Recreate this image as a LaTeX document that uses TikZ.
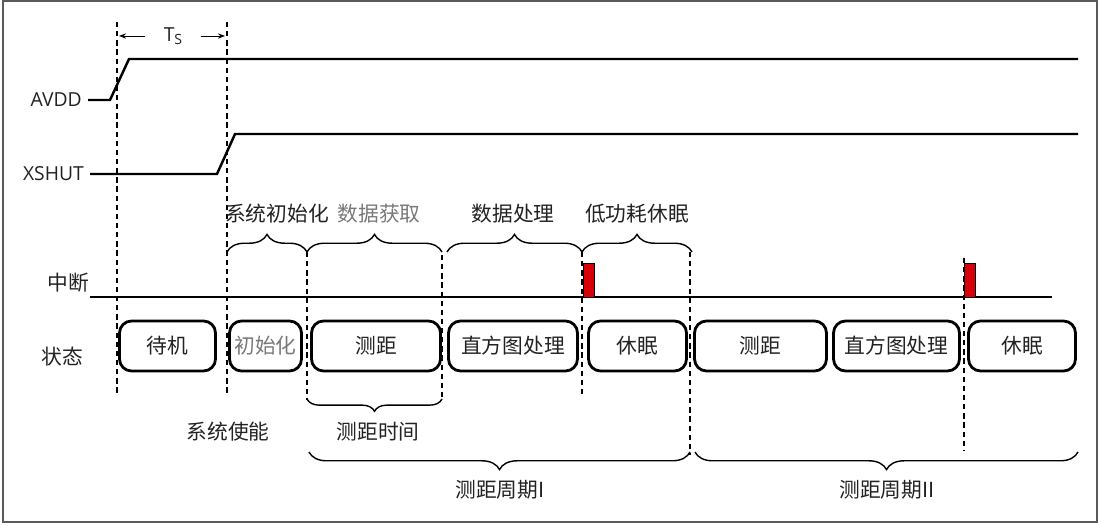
\documentclass[tikz,border=0pt]{standalone}
\usepackage{fontspec}
\setmainfont{Noto Sans CJK SC}
\newfontfamily\latinfont{Open Sans}
\usetikzlibrary{arrows.meta,decorations.pathreplacing}
\definecolor{inkgray}{RGB}{34,34,34}
\definecolor{softgray}{RGB}{120,120,120}
\definecolor{framegray}{RGB}{90,90,90}
\definecolor{pulsered}{RGB}{215,0,10}

\begin{document}
\begin{tikzpicture}[x=0.02cm, y=-0.02cm,
    every node/.style={font=\fontsize{11.8}{14}\selectfont, text=inkgray},
    latin/.style={font=\latinfont\fontsize{11}{13}\selectfont},
    signal/.style={line width=1.4pt},
    guide/.style={dash pattern=on 3pt off 2.2pt, line width=0.8pt},
    state/.style={draw, line width=1.6pt, rounded corners=0.24cm, minimum height=1cm, inner sep=0pt},
    topbrace/.style={decorate, decoration={brace, amplitude=10pt}, line width=0.8pt},
    lowbrace/.style={decorate, decoration={brace, mirror, amplitude=#1}, line width=0.8pt},
    pulse/.style={draw, fill=pulsered, line width=0.4pt},
    tsarrow/.style={-{Stealth[length=4pt,width=3pt]}, line width=0.5pt, shorten <=7pt}]
  \useasboundingbox (0,0) rectangle (1101,526);
  \draw[framegray, line width=0.6pt] (3,1) rectangle (1097,522);

  % dashed time marks
  \foreach \x/\ya/\yb in {117/22/395, 227/22/395, 307/252/400, 442/255/400,
                         582/252/395, 690/252/455, 964/258/450}
    \draw[guide] (\x,\ya) -- (\x,\yb);

  % Ts
  \node[latin] (ts) at (173,36) {T\raisebox{-0.25ex}{\footnotesize S}};
  \coordinate (tsleft) at (119,36);
  \coordinate (tsright) at (225,36);
  \draw[tsarrow] (ts) -- (tsleft);
  \draw[tsarrow] (ts) -- (tsright);

  % signals
  \node[latin, anchor=east] (avdd) at (88,100) {AVDD};
  \draw[signal] (avdd.east) -- (110,100) -- (129,59) -- (1078,59);
  \node[latin, anchor=east] (xshut) at (90,174) {XSHUT};
  \draw[signal] (xshut.east) -- (217,174) -- (235,134) -- (1078,134);

  % interrupt
  \node (irq) at (68,283) {中断};
  \draw[line width=0.8pt] (90,297) -- (1052,297);
  \draw[pulse] (583,297) rectangle (594,263);
  \draw[pulse] (964,297) rectangle (975,263);

  % phases
  \node (initlbl) at (277,214) {系统初始化};
  \node[text=softgray] (acqlbl) at (379,214) {数据获取};
  \node (proclbl) at (513,214) {数据处理};
  \node (sleeplbl) at (637,214) {低功耗休眠};
  \draw[topbrace] (227,252) -- (307,252);
  \draw[topbrace] (307,252) -- (442,252);
  \draw[topbrace] (447,252) -- (582,252);
  \draw[topbrace] (582,252) -- (692,252);

  % states
  \node (statelbl) at (62,357) {状态};
  \node[state, minimum width=1.92cm] (standby) at (167.5,346) {待机};
  \node[state, minimum width=1.44cm, text=softgray] (init) at (265.5,346) {初始化};
  \node[state, minimum width=2.58cm] (range1) at (376,346) {测距};
  \node[state, minimum width=2.58cm] (hist1) at (513,346) {直方图处理};
  \node[state, minimum width=1.96cm] (sleep1) at (637.5,346) {休眠};
  \node[state, minimum width=2.64cm] (range2) at (760.5,346) {测距};
  \node[state, minimum width=2.52cm] (hist2) at (896.5,346) {直方图处理};
  \node[state, minimum width=2.14cm] (sleep2) at (1022,346) {休眠};

  % bottom
  \node (enable) at (228,432) {系统使能};
  \draw[lowbrace=7pt] (307,399) -- (442,399);
  \node (rangetime) at (378,432) {测距时间};
  \draw[lowbrace=10pt] (309,452) -- (690,452);
  \draw[lowbrace=10pt] (695,452) -- (1078,452);
  \node (cycle1) at (500,490) {测距周期I};
  \node (cycle2) at (887,490) {测距周期II};
\end{tikzpicture}
\end{document}
